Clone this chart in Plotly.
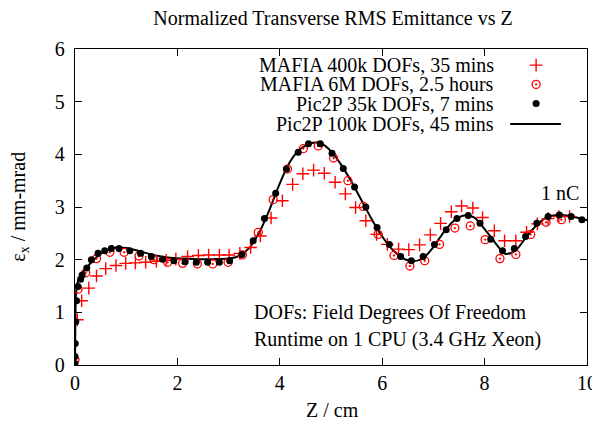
import plotly.graph_objects as go

# ---- data ----
mafia400k_x = [0.045, 0.13, 0.27, 0.42, 0.60, 0.80, 0.99, 1.18, 1.38, 1.59, 1.78, 1.97, 2.20, 2.41, 2.61, 2.82, 3.01,
               3.22, 3.43, 3.62, 3.83, 4.05, 4.25, 4.45, 4.66, 4.87, 5.08, 5.28, 5.48, 5.68, 5.89, 6.10, 6.32, 6.52,
               6.73, 6.94, 7.14, 7.35, 7.55, 7.77, 7.96, 8.19, 8.39, 8.61, 8.82, 9.03, 9.24, 9.45, 9.66]
mafia400k_y = [0.86, 1.22, 1.46, 1.69, 1.83, 1.89, 1.93, 1.94, 1.95, 1.97, 1.99, 2.01, 2.06, 2.08, 2.09, 2.09, 2.09,
               2.12, 2.23, 2.45, 2.79, 3.12, 3.43, 3.63, 3.70, 3.64, 3.47, 3.25, 2.99, 2.74, 2.48, 2.29, 2.20, 2.19,
               2.28, 2.47, 2.69, 2.91, 3.02, 2.98, 2.80, 2.55, 2.36, 2.36, 2.52, 2.68, 2.78, 2.82, 2.82]

mafia6m_x = [0.0, 0.06, 0.21, 0.42, 0.68, 0.96, 1.25, 1.54, 1.81, 2.10, 2.39, 2.69, 2.99, 3.27, 3.58, 3.87, 4.15,
             4.46, 4.75, 5.05, 5.33, 5.63, 5.92, 6.23, 6.54, 6.83, 7.12, 7.42, 7.72, 8.01, 8.30, 8.61, 8.90, 9.20, 9.50]
mafia6m_y = [0.10, 1.44, 1.75, 2.02, 2.14, 2.14, 2.07, 2.00, 1.95, 1.93, 1.92, 1.92, 1.95, 2.09, 2.52, 3.14, 3.72,
             4.11, 4.16, 3.93, 3.50, 3.01, 2.48, 2.08, 1.88, 1.98, 2.29, 2.60, 2.64, 2.38, 2.02, 2.10, 2.48, 2.71, 2.76]

pic35k_x = [0.0, 0.0, 0.005, 0.015, 0.03, 0.06, 0.11, 0.14, 0.23, 0.32, 0.45, 0.58, 0.71, 0.86, 1.07, 1.28, 1.49,
            1.71, 1.93, 2.15, 2.37, 2.59, 2.82, 3.02, 3.26, 3.48, 3.70, 3.92, 4.13, 4.36, 4.56, 4.79, 5.02, 5.24,
            5.46, 5.68, 5.90, 6.14, 6.36, 6.57, 6.80, 7.02, 7.25, 7.46, 7.68, 7.91, 8.12, 8.35, 8.58, 8.80, 9.02,
            9.24, 9.46, 9.69, 9.90]
pic35k_y = [0.03, 0.16, 0.41, 0.82, 1.22, 1.49, 1.63, 1.71, 1.84, 2.00, 2.12, 2.17, 2.21, 2.21, 2.17, 2.12, 2.06,
            2.01, 1.98, 1.96, 1.95, 1.95, 1.95, 1.98, 2.10, 2.36, 2.78, 3.26, 3.72, 4.04, 4.20, 4.20, 4.02, 3.73,
            3.38, 3.00, 2.61, 2.29, 2.06, 1.98, 2.06, 2.29, 2.57, 2.78, 2.84, 2.69, 2.39, 2.17, 2.21, 2.44, 2.69,
            2.82, 2.85, 2.82, 2.76]

pic100k_x = [0.0, 0.003, 0.006, 0.01, 0.02, 0.04, 0.07, 0.12, 0.22, 0.35, 0.51, 0.71, 0.84, 1.0, 1.23, 1.49, 1.81,
             2.07, 2.4, 2.7, 3.0, 3.2, 3.4, 3.6, 3.8, 4.0, 4.2, 4.4, 4.6, 4.8, 5.0, 5.2, 5.4, 5.6, 5.8, 6.0, 6.2,
             6.4, 6.6, 6.8, 7.0, 7.2, 7.4, 7.6, 7.8, 8.0, 8.2, 8.4, 8.6, 8.8, 9.0, 9.2, 9.4, 9.6, 9.8, 10.0]
pic100k_y = [0.0, 0.3, 0.7, 1.05, 1.35, 1.52, 1.62, 1.71, 1.84, 1.98, 2.12, 2.21, 2.23, 2.22, 2.17, 2.10, 2.04,
             2.02, 2.01, 2.01, 2.02, 2.07, 2.22, 2.52, 2.95, 3.45, 3.86, 4.10, 4.21, 4.21, 4.06, 3.80, 3.48, 3.12,
             2.76, 2.44, 2.19, 2.03, 1.97, 2.03, 2.24, 2.52, 2.74, 2.84, 2.80, 2.58, 2.33, 2.11, 2.17, 2.41, 2.64,
             2.80, 2.85, 2.84, 2.80, 2.75]

legend_names = ["MAFIA 400k DOFs, 35 mins", "MAFIA 6M DOFs, 2.5 hours",
                "Pic2P 35k DOFs, 7 mins", "Pic2P 100k DOFs, 45 mins"]
x_ticks = [0, 2, 4, 6, 8, 10]
y_ticks = [0, 1, 2, 3, 4, 5, 6]

FONT = "Liberation Serif"
FS = 20
RED = "#ff0000"

fig = go.Figure()

fig.add_trace(go.Scatter(x=pic100k_x, y=pic100k_y, mode="lines",
                         line=dict(color="black", width=2, shape="spline", smoothing=0.8),
                         showlegend=False, hoverinfo="skip"))
fig.add_trace(go.Scatter(x=mafia400k_x, y=mafia400k_y, mode="markers",
                         marker=dict(symbol="cross-thin", size=9, line=dict(color=RED, width=1.4)),
                         showlegend=False))
fig.add_trace(go.Scatter(x=mafia6m_x, y=mafia6m_y, mode="markers",
                         marker=dict(symbol="circle-open-dot", size=8, color=RED, line=dict(color=RED, width=1.3)),
                         showlegend=False))
fig.add_trace(go.Scatter(x=pic35k_x, y=pic35k_y, mode="markers",
                         marker=dict(symbol="circle", size=7, color="black"),
                         showlegend=False))

# ---- manual legend (gnuplot style: text right, sample to the right) ----
leg_text_x = 0.8226
leg_rows = [0.949, 0.888, 0.8275, 0.7627]
samp_x = 0.9006
fig.add_trace(go.Scatter(x=[samp_x], y=[leg_rows[0]], xaxis="x2", yaxis="y2", mode="markers",
                         marker=dict(symbol="cross-thin", size=9, line=dict(color=RED, width=1.4)),
                         showlegend=False, hoverinfo="skip"))
fig.add_trace(go.Scatter(x=[samp_x], y=[leg_rows[1]], xaxis="x2", yaxis="y2", mode="markers",
                         marker=dict(symbol="circle-open-dot", size=8, color=RED, line=dict(color=RED, width=1.3)),
                         showlegend=False, hoverinfo="skip"))
fig.add_trace(go.Scatter(x=[samp_x], y=[leg_rows[2]], xaxis="x2", yaxis="y2", mode="markers",
                         marker=dict(symbol="circle", size=7, color="black"),
                         showlegend=False, hoverinfo="skip"))
fig.add_trace(go.Scatter(x=[0.85, 0.949], y=[leg_rows[3], leg_rows[3]], xaxis="x2", yaxis="y2", mode="lines",
                         line=dict(color="black", width=2), showlegend=False, hoverinfo="skip"))

tf = dict(family=FONT, size=FS, color="black")
annotations = []
for name, yy in zip(legend_names, leg_rows):
    annotations.append(dict(text=name, x=leg_text_x, y=yy, xref="paper", yref="paper",
                            xanchor="right", yanchor="middle", showarrow=False, font=tf))
annotations += [
    dict(text="1 nC", x=9.88, y=3.27, xref="x", yref="y", xanchor="right", yanchor="middle",
         showarrow=False, font=tf),
    dict(text="DOFs: Field Degrees Of Freedom", x=3.46, y=0.99, xref="x", yref="y",
         xanchor="left", yanchor="middle", showarrow=False, font=tf),
    dict(text="Runtime on 1 CPU (3.4 GHz Xeon)", x=3.46, y=0.48, xref="x", yref="y",
         xanchor="left", yanchor="middle", showarrow=False, font=tf),
    # axis titles
    dict(text="Z / cm", x=0.502, y=-0.141, xref="paper", yref="paper", xanchor="center",
         yanchor="middle", showarrow=False, font=tf),
    dict(text="ε<sub>x</sub> / mm-mrad", x=-0.110, y=0.5, xref="paper", yref="paper", xanchor="center",
         yanchor="middle", textangle=-90, showarrow=False, font=tf),
]

axis_common = dict(showgrid=False, zeroline=False, showline=True, linecolor="black", linewidth=1.3,
                   mirror="allticks", ticks="inside", ticklen=7, tickwidth=1, tickcolor="black",
                   automargin=False, tickfont=tf)

# the page body has an 8px margin: size the figure so it fills the 600x424 window exactly
fig.update_layout(
    width=592, height=416,
    margin=dict(l=67, r=13, t=41, b=59),
    paper_bgcolor="white", plot_bgcolor="white",
    title=dict(text="Normalized Transverse RMS Emittance vs Z", x=0.549, xanchor="center",
               y=0.976, yanchor="middle", font=tf, automargin=False),
    xaxis=dict(range=[0, 10], tickvals=x_ticks, ticktext=[str(v) for v in x_ticks], **axis_common),
    yaxis=dict(range=[0, 6], tickvals=y_ticks, ticktext=[str(v) for v in y_ticks],
               ticklabelstandoff=5, **axis_common),
    xaxis2=dict(range=[0, 1], overlaying="x", visible=False),
    yaxis2=dict(range=[0, 1], overlaying="y", visible=False),
    annotations=annotations,
    showlegend=False,
)

fig.write_html("out.html")
